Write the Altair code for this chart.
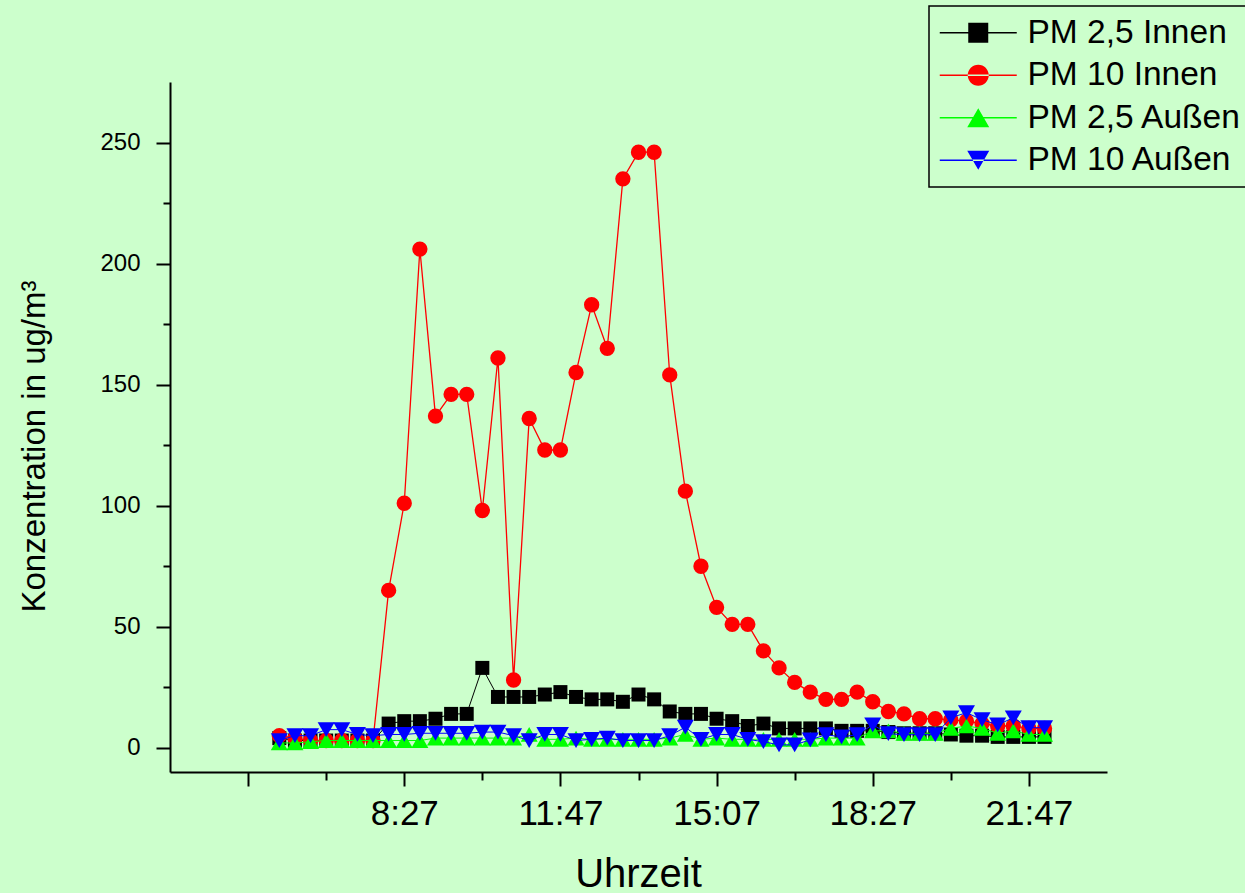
import altair as alt
import pandas as pd

# ---------------- data ----------------
times = ["5:47", "6:07", "6:27", "6:47", "7:07", "7:27", "7:47", "8:07", "8:27", "8:47",
         "9:07", "9:27", "9:47", "10:07", "10:27", "10:47", "11:07", "11:27", "11:47", "12:07",
         "12:27", "12:47", "13:07", "13:27", "13:47", "14:07", "14:27", "14:47", "15:07", "15:27",
         "15:47", "16:07", "16:27", "16:47", "17:07", "17:27", "17:47", "18:07", "18:27", "18:47",
         "19:07", "19:27", "19:47", "20:07", "20:27", "20:47", "21:07", "21:27", "21:47", "22:07"]

pm25_innen = [4, 3, 3, 3, 3, 3, 3, 10, 11, 11,
              12, 14, 14, 33, 21, 21, 21, 22, 23, 21,
              20, 20, 19, 22, 20, 15, 14, 14, 12, 11,
              9, 10, 8, 8, 8, 8, 7, 7, 7, 6.5,
              6, 6, 6, 5.5, 5, 5, 4.5, 4.5, 4.5, 4.5]

pm10_innen = [5, 4, 3, 3, 3, 3, 3, 65, 101, 206,
              137, 146, 146, 98, 161, 28, 136, 123, 123, 155,
              183, 165, 235, 246, 246, 154, 106, 75, 58, 51,
              51, 40, 33, 27, 23, 20, 20, 23, 19, 15,
              14, 12, 12, 11.5, 11, 10, 9, 9, 8, 8]

pm25_aussen = [2, 2, 2.5, 3, 3, 3, 3, 3, 3, 3,
               4, 4, 4, 4, 4, 4, 5.5, 3.5, 3.5, 4,
               3.5, 3.5, 3.5, 3.5, 3.5, 4, 5.5, 3.5, 4, 3.5,
               3.5, 3.5, 3.5, 3.5, 3.5, 4, 4, 4, 7, 7,
               6, 6, 6, 8, 9, 8, 6, 7, 5.5, 5.5]

pm10_aussen = [3, 5, 5, 7.5, 7.5, 5.5, 5, 5.5, 5.5, 6,
               6, 6, 6, 6.5, 6.5, 5, 3, 5.5, 5.5, 3,
               3.5, 4, 3, 3, 3, 5, 8.5, 3.5, 5.5, 5.5,
               3.5, 2.5, 1.2, 1.2, 3.3, 5.4, 4.5, 5.4, 9.5, 5.8,
               5.4, 5.4, 5.4, 12.4, 14.5, 11.6, 9.5, 12.4, 8.3, 8.3]

series_names = ["PM 2,5 Innen", "PM 10 Innen", "PM 2,5 Außen", "PM 10 Außen"]
series_values = [pm25_innen, pm10_innen, pm25_aussen, pm10_aussen]
series_colors = ["#000000", "#FF0000", "#00FF00", "#0000FF"]
series_shapes = ["square", "circle", "triangle-up", "triangle-down"]
series_sizes = [196, 235, 290, 290]
series_linewidths = [1, 1.3, 1, 1]

# legend symbols: a line with the marker in its middle (custom SVG paths,
# unit = half of the nominal symbol width; drawn to the right of the nominal box)
bar = "M-1.6,-0.08H6.1V0.08H-1.6Z "
legend_paths = [
    bar + "M1.25,-1H3.25V1H1.25Z",
    bar + "M1.2,0A1.05,1.05 0 1,0 3.3,0A1.05,1.05 0 1,0 1.2,0Z",
    bar + "M2.25,-0.95L3.35,0.95H1.15Z",
    bar + "M2.25,0.95L3.35,-0.95H1.15Z",
]

def to_minutes(t):
    h, m = t.split(":")
    return int(h) * 60 + int(m)

rows = []
for name, vals in zip(series_names, series_values):
    for t, v in zip(times, vals):
        rows.append({"Zeit": t, "min": to_minutes(t), "value": v, "series": name})
df = pd.DataFrame(rows)

BG = "#CCFFCC"

x_axis = alt.Axis(
    values=[307, 407, 507, 607, 707, 807, 907, 1007, 1107, 1207, 1307],
    tickSize={"condition": {"test": "datum.value % 200 == 107", "value": 14}, "value": 8},
    labelExpr="(datum.value % 200 == 107 && datum.value > 400) ? (floor(datum.value / 60) + ':' + ((datum.value % 60) < 10 ? '0' : '') + (datum.value % 60)) : ''",
    labelFontSize=35, labelPadding=10, labelFont="Liberation Sans", labelColor="black",
    title="Uhrzeit", titleFontSize=40, titleFont="Liberation Sans", titleFontWeight="normal",
    titleColor="black", titleX=468, titleY=114, titleBaseline="alphabetic", titleAlign="center",
    grid=False, domainColor="black", domainWidth=2, tickColor="black", tickWidth=2,
)
y_axis = alt.Axis(
    values=[0, 25, 50, 75, 100, 125, 150, 175, 200, 225, 250],
    tickSize={"condition": {"test": "datum.value % 50 == 0", "value": 14}, "value": 7},
    labelExpr="datum.value % 50 == 0 ? datum.label : ''",
    labelFontSize=24, labelPadding=16, labelFont="Liberation Sans", labelColor="black",
    title="Konzentration in ug/m³", titleFontSize=33, titleFont="Liberation Sans",
    titleFontWeight="normal", titleColor="black", titleX=-126, titleY=364, titleAngle=270,
    titleBaseline="alphabetic", titleAlign="center",
    grid=False, domainColor="black", domainWidth=2, tickColor="black", tickWidth=2,
)

X = alt.X("min:Q", scale=alt.Scale(domain=[207, 1407], nice=False, zero=False), axis=x_axis)
Y = alt.Y("value:Q", scale=alt.Scale(domain=[-10, 275], nice=False, zero=False), axis=y_axis)

layers = []
for name, color, shape, size, lw in zip(series_names, series_colors, series_shapes,
                                        series_sizes, series_linewidths):
    d = df[df["series"] == name]
    layers.append(alt.Chart(d).mark_line(color=color, strokeWidth=lw).encode(x=X, y=Y))
    layers.append(alt.Chart(d).mark_point(filled=True, color=color, shape=shape, size=size,
                                          opacity=1, strokeWidth=0).encode(x=X, y=Y))

leg = alt.Legend(title=None)
legend_layer = alt.Chart(df).transform_filter("false").mark_point(
    filled=True, opacity=1, size=100, strokeWidth=0
).encode(
    x=X, y=Y,
    color=alt.Color("series:N", scale=alt.Scale(domain=series_names, range=series_colors), legend=leg),
    shape=alt.Shape("series:N", scale=alt.Scale(domain=series_names, range=legend_paths), legend=leg),
)
layers.append(legend_layer)

chart = alt.layer(*layers).properties(
    width=937, height=690,
    padding={"left": 170, "top": 82, "right": 138, "bottom": 121},
    autosize=alt.AutoSizeParams(type="none"),
    background=BG,
).configure_view(stroke=None, fill=BG).configure_legend(
    orient="none", legendX=759, legendY=-76,
    strokeColor="black", strokeWidth=1.5, fillColor=BG, padding=10,
    labelFontSize=33.5, labelFont="Liberation Sans", labelColor="black", labelOffset=55,
    labelLimit=0, rowPadding=7.5, symbolSize=400, symbolStrokeWidth=0, symbolOpacity=1,
)

chart.save("out.html", embed_options={"renderer": "svg", "actions": False})
